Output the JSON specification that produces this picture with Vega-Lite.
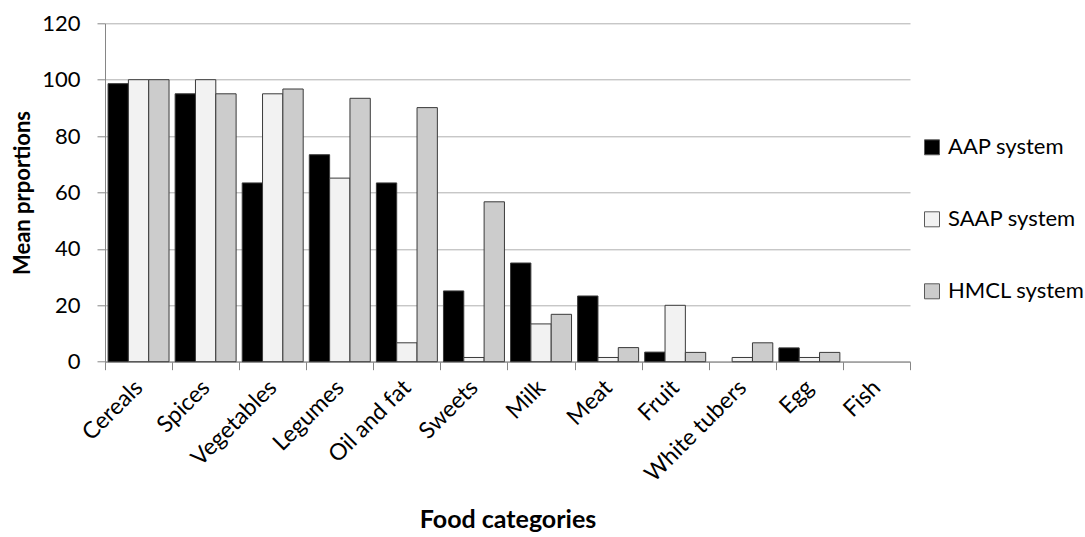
{
  "$schema": "https://vega.github.io/schema/vega-lite/v6.json",
  "autosize": "none",
  "width": 805,
  "height": 338.4,
  "padding": {"left": 105, "top": 23.3, "right": 175, "bottom": 175.3},
  "background": "white",
  "config": {
    "font": "Lato",
    "view": {"stroke": null},
    "axis": {"labelColor": "#000", "titleColor": "#000", "labelFont": "Lato", "titleFont": "Lato"}
  },
  "data": {
    "values": [
      {"category": "Cereals", "system": "AAP system", "value": 98.6},
      {"category": "Cereals", "system": "SAAP system", "value": 100},
      {"category": "Cereals", "system": "HMCL system", "value": 100},
      {"category": "Spices", "system": "AAP system", "value": 95},
      {"category": "Spices", "system": "SAAP system", "value": 100},
      {"category": "Spices", "system": "HMCL system", "value": 95},
      {"category": "Vegetables", "system": "AAP system", "value": 63.4},
      {"category": "Vegetables", "system": "SAAP system", "value": 95},
      {"category": "Vegetables", "system": "HMCL system", "value": 96.7},
      {"category": "Legumes", "system": "AAP system", "value": 73.4},
      {"category": "Legumes", "system": "SAAP system", "value": 65.1},
      {"category": "Legumes", "system": "HMCL system", "value": 93.4},
      {"category": "Oil and fat", "system": "AAP system", "value": 63.4},
      {"category": "Oil and fat", "system": "SAAP system", "value": 6.7},
      {"category": "Oil and fat", "system": "HMCL system", "value": 90.1},
      {"category": "Sweets", "system": "AAP system", "value": 25.1},
      {"category": "Sweets", "system": "SAAP system", "value": 1.5},
      {"category": "Sweets", "system": "HMCL system", "value": 56.7},
      {"category": "Milk", "system": "AAP system", "value": 35},
      {"category": "Milk", "system": "SAAP system", "value": 13.4},
      {"category": "Milk", "system": "HMCL system", "value": 16.8},
      {"category": "Meat", "system": "AAP system", "value": 23.3},
      {"category": "Meat", "system": "SAAP system", "value": 1.5},
      {"category": "Meat", "system": "HMCL system", "value": 5},
      {"category": "Fruit", "system": "AAP system", "value": 3.4},
      {"category": "Fruit", "system": "SAAP system", "value": 20},
      {"category": "Fruit", "system": "HMCL system", "value": 3.3},
      {"category": "White tubers", "system": "AAP system", "value": 0},
      {"category": "White tubers", "system": "SAAP system", "value": 1.5},
      {"category": "White tubers", "system": "HMCL system", "value": 6.7},
      {"category": "Egg", "system": "AAP system", "value": 4.9},
      {"category": "Egg", "system": "SAAP system", "value": 1.5},
      {"category": "Egg", "system": "HMCL system", "value": 3.3},
      {"category": "Fish", "system": "AAP system", "value": 0},
      {"category": "Fish", "system": "SAAP system", "value": 0},
      {"category": "Fish", "system": "HMCL system", "value": 0}
    ]
  },
  "transform": [{"filter": "datum.value > 0"}],
  "mark": {"type": "bar", "stroke": "#3a3a3a", "strokeWidth": 1},
  "encoding": {
    "x": {
      "field": "category",
      "type": "nominal",
      "scale": {
        "domain": ["Cereals", "Spices", "Vegetables", "Legumes", "Oil and fat", "Sweets", "Milk", "Meat", "Fruit", "White tubers", "Egg", "Fish"],
        "paddingInner": 0,
        "paddingOuter": 0
      },
      "title": "Food categories",
      "axis": {
        "tickBand": "extent",
        "labelAngle": -45,
        "labelAlign": "right",
        "labelBaseline": "middle",
        "labelFontSize": 23,
        "labelPadding": 14,
        "tickSize": 8,
        "tickColor": "#868686",
        "domainColor": "#868686",
        "grid": false,
        "titleFontSize": 25,
        "titleFontWeight": "bold",
        "titleY": 158,
        "titleBaseline": "middle"
      }
    },
    "xOffset": {
      "field": "system",
      "type": "nominal",
      "sort": ["AAP system", "SAAP system", "HMCL system"],
      "scale": {"domain": ["AAP system", "SAAP system", "HMCL system"], "paddingInner": 0, "paddingOuter": 0.15}
    },
    "y": {
      "field": "value",
      "type": "quantitative",
      "scale": {"domain": [0, 120]},
      "title": "Mean prportions",
      "axis": {
        "values": [0, 20, 40, 60, 80, 100, 120],
        "labelFontSize": 22,
        "labelPadding": 17,
        "tickSize": 8,
        "tickColor": "#868686",
        "domainColor": "#868686",
        "gridColor": "#b0b0b0",
        "titleFontSize": 22,
        "titleFontWeight": "bold",
        "titlePadding": 7
      }
    },
    "color": {
      "field": "system",
      "type": "nominal",
      "scale": {"domain": ["AAP system", "SAAP system", "HMCL system"], "range": ["#000000", "#f2f2f2", "#cccccc"]},
      "legend": {
        "title": null,
        "orient": "none",
        "legendX": 816,
        "legendY": 113,
        "padding": 0,
        "symbolType": "square",
        "symbolSize": 225,
        "symbolStrokeColor": "#5a5a5a",
        "symbolStrokeWidth": 1,
        "labelFontSize": 22,
        "labelColor": "#000",
        "labelOffset": 5,
        "rowPadding": 50
      }
    }
  }
}
